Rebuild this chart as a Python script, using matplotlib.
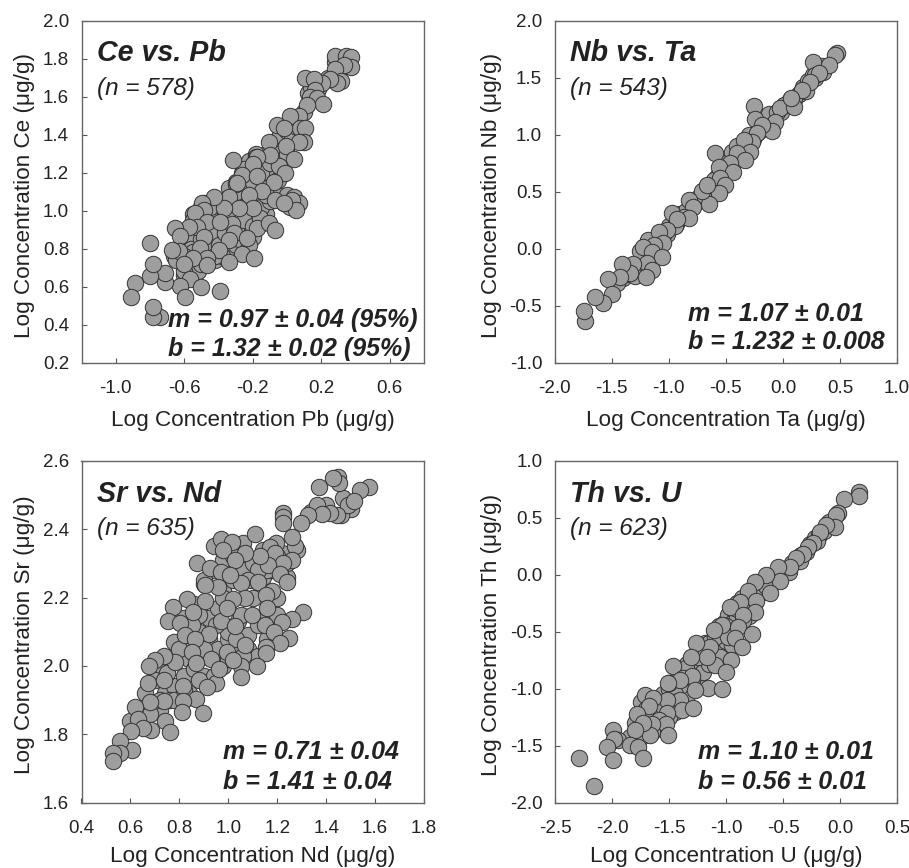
import matplotlib
matplotlib.use('Agg')
import matplotlib.pyplot as plt

plt.rcParams['font.family'] = ['Liberation Sans', 'DejaVu Sans']

# Ce vs Pb (back to front)
pb_x = [-0.62, -0.58, -0.55, -0.52, -0.48, -0.44, -0.4, -0.36, -0.32, -0.28, -0.24, -0.2, -0.16, -0.12, -0.08, -0.04,
        0.0, 0.03, 0.06, -0.3, -0.26, -0.22, -0.18, -0.14, -0.1, -0.06, -0.02, -0.42, -0.38, -0.34, -0.3, -0.26, -0.22,
        -0.18, -0.14, -0.1, -0.06, -0.02, 0.0, 0.02, -0.5, -0.46, -0.42, -0.38, -0.56, -0.58, -0.52, -0.66, -0.6,
        -0.12, -0.16, -0.2, -0.3, -0.34, 0.12, 0.18, 0.24, 0.3, 0.28, 0.34, 0.14, 0.1, 0.05,
        -0.55, -0.5, -0.45, -0.4, -0.35, -0.3, -0.25, -0.2, -0.15, -0.1, -0.05, 0.0,
        -0.5, -0.45, -0.4, -0.35, -0.3, -0.25, -0.2, -0.15, -0.1, -0.55, -0.6, -0.5, -0.42, -0.36,
        -0.28, -0.22, -0.16, -0.12, -0.05, -0.25, -0.3, -0.35, -0.18, -0.6, -0.65, -0.55, -0.45,
        0.283, 0.342, 0.375, 0.371, 0.332, 0.283, 0.316, 0.293, 0.254, 0.205, 0.108, 0.156, 0.166, 0.137, 0.176,
        0.211, 0.117, 0.069, 0.02, 0.085, 0.078, 0.107, 0.1, -0.058, -0.015, 0.069, -0.004, -0.107, 0.039, -0.048,
        -0.009, -0.097, -0.175, -0.2, -0.318, -0.263, -0.292, -0.175, -0.078, -0.146, -0.224, -0.341, -0.068,
        0.039, 0.069, 0.03, 0.055, -0.019, -0.2, -0.282, -0.37, -0.429, -0.497, -0.487, -0.536, -0.468, -0.526,
        -0.575, -0.653, -0.624, -0.483, -0.321, -0.312, -0.39, -0.175, -0.107, -0.068, -0.234, -0.341, -0.507,
        -0.633, -0.672, -0.4, -0.263, -0.19, -0.341, -0.468, -0.546, -0.604, -0.468, -0.565, -0.624, -0.594,
        -0.501, -0.39, -0.711, -0.715, -0.8, -0.784, -0.8, -0.887, -0.91, -0.741, -0.784, -0.784]
pb_y = [0.8, 0.86, 0.92, 0.98, 1.04, 1.0, 0.96, 1.0, 1.05, 1.1, 1.14, 1.18, 1.24, 1.3, 1.36, 1.4,
        1.42, 1.38, 1.44, 1.15, 1.2, 1.26, 1.3, 1.15, 1.2, 1.26, 1.3, 0.9, 0.85, 0.8, 0.82, 0.88, 0.95,
        1.0, 1.05, 1.1, 1.08, 1.04, 1.08, 1.02, 0.9, 0.8, 0.74, 0.76, 0.8, 0.7, 0.68, 0.76, 0.66,
        0.98, 0.93, 0.86, 0.9, 1.12, 1.62, 1.64, 1.7, 1.72, 1.78, 1.78, 1.65, 1.52, 1.47,
        0.98, 1.02, 0.96, 1.05, 0.98, 1.06, 1.1, 1.15, 1.2, 1.25, 1.3, 1.3,
        0.85, 0.88, 0.82, 0.98, 1.1, 0.95, 0.92, 1.02, 1.05, 0.78, 0.76, 0.72, 0.76, 0.88,
        0.85, 0.82, 0.96, 1.08, 1.16, 1.22, 1.14, 1.06, 1.28, 0.68, 0.74, 0.95, 1.02,
        1.814, 1.814, 1.81, 1.758, 1.767, 1.744, 1.68, 1.67, 1.69, 1.67, 1.70, 1.69, 1.635, 1.60, 1.59,
        1.56, 1.556, 1.50, 1.50, 1.42, 1.433, 1.433, 1.36, 1.45, 1.433, 1.363, 1.342, 1.363, 1.27, 1.235,
        1.197, 1.293, 1.284, 1.246, 1.267, 1.188, 1.144, 1.18, 1.153, 1.104, 1.083, 1.074, 1.056,
        1.074, 1.039, 1.056, 1.004, 1.039, 1.012, 1.012, 1.012, 1.074, 1.039, 1.004, 0.986, 0.942, 0.916,
        0.916, 0.907, 0.867, 0.863, 0.93, 0.881, 0.942, 0.907, 0.933, 0.898, 0.855, 0.846, 0.802,
        0.79, 0.793, 0.793, 0.772, 0.749, 0.732, 0.749, 0.749, 0.718, 0.714, 0.639, 0.604, 0.548,
        0.6, 0.578, 0.627, 0.674, 0.656, 0.718, 0.828, 0.621, 0.544, 0.442, 0.442, 0.492]

# Nb vs Ta
ta_x = [-1.4, -1.35, -1.28, -1.22, -1.18, -1.14, -1.1, -1.06, -1.02, -0.98, -0.94, -0.9, -0.86, -0.82, -0.78, -0.74,
        -0.7, -0.66, -0.62, -0.58, -0.54, -0.5, -0.46, -0.42, -0.38, -0.34, -0.3, -0.26, -0.22, -0.18, -0.14, -0.1,
        -0.06, -0.02, 0.02, 0.06, 0.1, 0.14, 0.18, 0.22, 0.26, 0.34,
        -1.05, -1.0, -0.95, -0.9, -0.85, -0.75, -0.7, -0.65, -0.6, -0.5, -0.45, -0.4, -0.3, -0.2, -0.12, -0.05, 0.1,
        0.2, 0.28, 0.35, -1.25, -1.18, -1.1, -1.3, -1.45,
        0.474, 0.459, 0.26, 0.40, 0.284, 0.313, 0.24, 0.167, 0.006, -0.023, 0.094, 0.07,
        -0.251, -0.243, -0.067, -0.096, -0.184, -0.228, -0.272, -0.345, -0.287, -0.404, -0.33, -0.599, -0.462,
        -0.564, -0.433, -0.555, -0.506, -0.564, -0.652, -0.71, -0.667, -0.827, -0.784, -0.974, -0.871, -0.827, -0.93,
        -1.018, -1.09, -1.047, -1.134, -1.222, -1.149, -1.061, -1.193, -1.149, -1.202, -1.31, -1.339, -1.412, -1.427,
        -1.529, -1.5, -1.573, -1.646, -1.734, -1.74]
ta_y = [-0.26, -0.22, -0.18, -0.1, -0.05, 0.0, 0.04, 0.1, 0.13, 0.2, 0.22, 0.28, 0.31, 0.36, 0.4, 0.44,
        0.5, 0.52, 0.56, 0.63, 0.66, 0.7, 0.74, 0.78, 0.84, 0.88, 0.92, 0.96, 1.02, 1.05, 1.08, 1.12,
        1.16, 1.2, 1.26, 1.3, 1.3, 1.36, 1.42, 1.47, 1.52, 1.6,
        0.12, 0.2, 0.2, 0.3, 0.33, 0.42, 0.47, 0.52, 0.6, 0.75, 0.85, 0.9, 1.0, 1.08, 1.18, 1.2, 1.32,
        1.38, 1.5, 1.55, -0.02, 0.08, 0.02, -0.24, -0.3,
        1.713, 1.70, 1.634, 1.611, 1.523, 1.538, 1.465, 1.392, 1.26, 1.231, 1.246, 1.319,
        1.251, 1.135, 1.114, 1.035, 1.085, 1.012, 0.939, 0.953, 0.851, 0.836, 0.778, 0.842, 0.749,
        0.719, 0.675, 0.617, 0.558, 0.491, 0.392, 0.509, 0.558, 0.427, 0.368, 0.31, 0.28, 0.266, 0.26,
        0.164, 0.149, 0.047, 0.032, 0.018, -0.026, -0.07, -0.129, -0.187, -0.246, -0.137, -0.216, -0.137, -0.246,
        -0.269, -0.398, -0.48, -0.421, -0.632, -0.544]

# Sr vs Nd
nd_x = [0.72, 0.76, 0.8, 0.84, 0.88, 0.92, 0.96, 1.0, 1.04, 1.08, 1.12, 1.16, 1.2, 1.24, 0.78, 0.82, 0.86, 0.9, 0.94, 0.98,
        1.02, 1.06, 1.1, 1.14, 1.18, 1.22, 0.84, 0.88, 0.92, 0.96, 1.0, 1.04, 1.08, 1.12, 1.16, 0.66, 0.7, 0.74, 0.78,
        0.82, 0.86, 0.9, 0.94, 0.98, 1.02, 1.06, 0.6, 0.64, 0.68, 0.72, 0.76, 0.8, 0.84, 1.28, 1.24, 1.2, 1.16, 1.12,
        0.94, 0.98, 1.02, 1.06, 1.1, 1.14, 1.34, 1.4, 1.5, 1.46,
        1.0, 1.05, 0.95, 1.1, 0.9, 1.12, 1.08, 1.0, 0.88, 0.93, 1.03, 0.8, 0.85, 1.18, 1.14, 1.2, 0.75, 0.72, 0.95, 1.07,
        0.98, 0.9, 0.78, 0.68, 1.05, 1.15, 1.02, 0.88, 0.82, 0.97,
        1.576, 1.538, 1.47, 1.49, 1.514, 1.45, 1.454, 1.429, 1.372, 1.361, 1.443, 1.415, 1.385, 1.327, 1.297,
        1.225, 1.225, 1.225, 1.109, 1.272, 1.259, 1.197, 1.17, 1.191, 1.259, 1.225, 1.163, 1.129, 1.211, 1.238,
        1.122, 1.054, 1.068, 0.972, 1.016, 0.979, 1.027, 0.873, 0.925, 0.972, 1.009, 0.959, 0.904, 1.156, 1.068,
        1.02, 0.904, 0.832, 0.775, 0.857, 0.993, 1.095, 1.159, 1.304, 1.259, 1.218, 0.754, 0.802, 1.027, 0.922,
        1.186, 0.823, 0.863, 1.249, 1.211, 1.156, 1.156, 1.116, 1.054, 0.993, 1.02, 0.962, 0.85, 0.87, 0.782,
        0.737, 0.7, 0.675, 0.673, 0.737, 0.816, 0.911, 0.87, 0.813, 0.737, 0.679, 0.618, 0.809, 0.897, 0.632,
        0.741, 0.761, 0.686, 0.652, 0.602, 0.607, 0.559, 0.559, 0.529, 0.529]
nd_y = [2.0, 2.02, 2.05, 2.08, 2.1, 2.14, 2.17, 2.18, 2.13, 2.09, 2.12, 2.15, 2.2, 2.26, 2.07, 2.14, 2.18, 2.24, 2.28, 2.22,
        2.25, 2.28, 2.25, 2.26, 2.28, 2.33, 2.02, 2.04, 2.08, 2.05, 2.08, 2.06, 2.05, 2.03, 2.08, 1.92, 1.96, 1.92, 1.94,
        1.97, 1.99, 1.97, 1.97, 2.0, 2.02, 2.03, 1.84, 1.86, 1.88, 1.87, 1.9, 1.9, 1.92, 2.34, 2.3, 2.32, 2.28, 2.29,
        2.35, 2.31, 2.33, 2.36, 2.3, 2.34, 2.45, 2.47, 2.46, 2.44,
        2.1, 2.15, 2.12, 2.2, 2.05, 2.28, 2.25, 2.02, 2.15, 2.02, 2.08, 2.05, 2.12, 2.22, 2.32, 2.15, 1.98, 1.9, 1.95, 2.06,
        2.2, 2.25, 1.9, 1.86, 2.0, 2.12, 2.32, 1.96, 1.93, 2.13,
        2.522, 2.514, 2.49, 2.47, 2.483, 2.553, 2.536, 2.548, 2.522, 2.47, 2.441, 2.446, 2.444, 2.441, 2.417,
        2.448, 2.434, 2.419, 2.386, 2.35, 2.376, 2.358, 2.348, 2.331, 2.309, 2.302, 2.295, 2.321, 2.27, 2.246,
        2.246, 2.241, 2.329, 2.37, 2.363, 2.339, 2.309, 2.302, 2.285, 2.275, 2.266, 2.23, 2.236, 2.207, 2.199,
        2.197, 2.19, 2.197, 2.173, 2.158, 2.168, 2.149, 2.168, 2.158, 2.136, 2.129, 2.132, 2.124, 2.116, 2.093,
        2.1, 2.09, 2.08, 2.083, 2.066, 2.056, 2.038, 2.0, 1.968, 2.041, 2.017, 1.99, 2.041, 2.009, 2.012,
        2.029, 2.017, 2.0, 1.951, 1.96, 1.941, 1.939, 1.902, 1.898, 1.898, 1.895, 1.88, 1.866, 1.861, 1.846,
        1.839, 1.807, 1.812, 1.819, 1.809, 1.754, 1.781, 1.746, 1.744, 1.723]

# Th vs U
u_x = [-1.6, -1.55, -1.5, -1.45, -1.42, -1.38, -1.34, -1.3, -1.26, -1.22, -1.18, -1.14, -1.1, -1.06, -1.02, -0.98, -0.94,
       -0.9, -0.86, -0.82, -0.78, -0.74, -0.7, -0.66, -0.6, -0.55, -0.5, -0.46, -0.42, -0.38, -0.34, -0.3, -0.26, -0.22,
       -0.18, -0.14, -0.1, -1.3, -1.25, -1.2, -1.15, -1.1, -1.05, -1.0, -1.35, -1.4, -1.45, -1.5, -1.55, -1.6, -1.65,
       -1.75, -1.7, -1.8, -1.84, -0.95, -0.9, -0.85, -0.8, -0.75,
       -1.25, -1.2, -1.15, -1.1, -1.05, -1.0, -0.95, -0.9, -0.85, -0.8, -0.7, -0.65, -1.35, -1.3, -1.4, -1.45, -1.5,
       -1.6, -1.55, -1.7, -1.75, -1.65, -1.45, -0.98, -0.45, -0.35, -0.2,
       0.167, 0.167, 0.035, -0.017, -0.032, -0.046, -0.12, -0.178, -0.236, -0.28, -0.324, -0.382, -0.441, -0.543,
       -0.528, -0.645, -0.747, -0.616, -0.806, -0.733, -0.879, -0.961, -0.747, -0.85, -0.893, -1.031, -1.104, -0.768,
       -0.923, -0.864, -1.142, -1.259, -0.952, -1.098, -1.171, -1.311, -0.996, -1.469, -1.375, -1.302, -1.405, -1.507,
       -1.156, -1.031, -1.273, -1.405, -1.521, -1.39, -1.288, -1.711, -1.638, -1.673, -1.521, -1.784, -1.586, -1.527,
       -1.653, -1.507, -1.667, -1.726, -1.799, -1.989, -1.945, -1.983, -2.047, -1.843, -1.77, -1.726, -1.989, -2.287, -2.155]
u_y = [-1.1, -1.05, -1.0, -1.04, -0.9, -0.86, -0.78, -0.76, -0.7, -0.64, -0.6, -0.6, -0.5, -0.45, -0.42, -0.35, -0.3,
       -0.25, -0.2, -0.2, -0.16, -0.14, -0.12, -0.08, -0.05, 0.0, 0.02, 0.06, 0.1, 0.12, 0.17, 0.2, 0.27, 0.32,
       0.35, 0.38, 0.46, -0.98, -0.9, -0.85, -0.78, -0.7, -0.62, -0.58, -1.08, -1.12, -1.2, -1.25, -1.3, -1.3, -1.22,
       -1.12, -1.18, -1.3, -1.42, -0.42, -0.38, -0.3, -0.36, -0.24,
       -0.72, -0.68, -0.6, -0.55, -0.72, -0.45, -0.62, -0.3, -0.4, -0.3, -0.16, -0.1, -0.82, -0.92, -0.98, -1.05, -0.95,
       -1.2, -1.15, -1.25, -1.42, -1.38, -1.12, -0.55, 0.02, 0.12, 0.3,
       0.728, 0.693, 0.661, 0.538, 0.523, 0.421, 0.436, 0.377, 0.275, 0.246, 0.178, 0.143, 0.064, 0.064,
       -0.053, -0.003, -0.061, -0.164, -0.14, -0.228, -0.237, -0.281, -0.325, -0.354, -0.456, -0.442, -0.485, -0.523,
       -0.558, -0.632, -0.632, -0.602, -0.749, -0.792, -0.719, -0.725, -0.851, -0.801, -0.909, -0.889, -0.924, -0.953,
       -0.997, -1.006, -1.012, -1.1, -1.1, -1.187, -1.173, -1.056, -1.085, -1.152, -1.216, -1.222, -1.275, -1.31,
       -1.31, -1.406, -1.406, -1.304, -1.363, -1.363, -1.45, -1.444, -1.509, -1.494, -1.509, -1.611, -1.626, -1.611, -1.854]

titles = ['Ce vs. Pb', 'Nb vs. Ta', 'Sr vs. Nd', 'Th vs. U']
counts = ['(n = 578)', '(n = 543)', '(n = 635)', '(n = 623)']
fits = [['m = 0.97 \u00b1 0.04 (95%)', 'b = 1.32 \u00b1 0.02 (95%)'],
        ['m = 1.07 \u00b1 0.01', 'b = 1.232 \u00b1 0.008'],
        ['m = 0.71 \u00b1 0.04', 'b = 1.41 \u00b1 0.04'],
        ['m = 1.10 \u00b1 0.01', 'b = 0.56 \u00b1 0.01']]
x_names = ['Pb', 'Ta', 'Nd', 'U']
y_names = ['Ce', 'Nb', 'Sr', 'Th']
x_ticks = [[-1.0, -0.6, -0.2, 0.2, 0.6],
           [-2.0, -1.5, -1.0, -0.5, 0.0, 0.5, 1.0],
           [0.4, 0.6, 0.8, 1.0, 1.2, 1.4, 1.6, 1.8],
           [-2.5, -2.0, -1.5, -1.0, -0.5, 0.0, 0.5]]
y_ticks = [[0.2, 0.4, 0.6, 0.8, 1.0, 1.2, 1.4, 1.6, 1.8, 2.0],
           [-1.0, -0.5, 0.0, 0.5, 1.0, 1.5, 2.0],
           [1.6, 1.8, 2.0, 2.2, 2.4, 2.6],
           [-2.0, -1.5, -1.0, -0.5, 0.0, 0.5, 1.0]]
x_lims = [(-1.2, 0.8), (-2.0, 1.0), (0.4, 1.8), (-2.5, 0.5)]
y_lims = [(0.2, 2.0), (-1.0, 2.0), (1.6, 2.6), (-2.0, 1.0)]
xs = [pb_x, ta_x, nd_x, u_x]
ys = [pb_y, ta_y, nd_y, u_y]

W, H = 909, 868
# axes boxes in pixels: left, top, right, bottom
boxes = [(81.5, 20.5, 424, 362.7), (554.7, 20.5, 897, 362.7),
         (81.5, 460.7, 424, 802.7), (555, 460.7, 897, 802.7)]
fit_left = [0.253, 0.39, 0.413, 0.418]
fit_top = [0.126, 0.142, 0.148, 0.148]
fit_low = [0.041, 0.06, 0.061, 0.061]
ylabel_x = [-0.135, -0.155, -0.135, -0.155]
xlabel_y = [-0.138, -0.138, -0.128, -0.128]
ink = '#222222'

fig = plt.figure(figsize=(W / 100, H / 100), dpi=100)
for i, (l, t, r, b) in enumerate(boxes):
    ax = fig.add_axes([l / W, 1 - b / H, (r - l) / W, (b - t) / H])
    ax.scatter(xs[i], ys[i], s=140, c='#9e9e9e', edgecolors='#333333', linewidths=0.7, clip_on=False)
    ax.set_xlim(x_lims[i])
    ax.set_ylim(y_lims[i])
    ax.set_xticks(x_ticks[i])
    ax.set_yticks(y_ticks[i])
    ax.set_xticklabels(['%.1f' % v for v in x_ticks[i]])
    ax.set_yticklabels(['%.1f' % v for v in y_ticks[i]])
    ax.tick_params(direction='in', length=3.5, width=0.8, color='#555555', labelsize=13.5,
                   labelcolor=ink, top=False, right=False)
    ax.tick_params(axis='x', pad=12.5)
    ax.tick_params(axis='y', pad=9)
    for spine in ax.spines.values():
        spine.set_color('#666666')
        spine.set_linewidth(1.0)
    ax.set_xlabel('Log Concentration %s (\u03bcg/g)' % x_names[i], fontsize=16.2, color=ink)
    ax.set_ylabel('Log Concentration %s (\u03bcg/g)' % y_names[i], fontsize=16.2, color=ink)
    ax.xaxis.set_label_coords(0.5, xlabel_y[i])
    ax.yaxis.set_label_coords(ylabel_x[i], 0.49)
    ax.text(0.045, 0.904, titles[i], transform=ax.transAxes, fontsize=20.6, fontweight='bold',
            fontstyle='italic', color=ink, va='center')
    ax.text(0.045, 0.802, counts[i], transform=ax.transAxes, fontsize=17.5, fontstyle='italic',
            color=ink, va='center')
    ax.text(fit_left[i], fit_top[i], fits[i][0], transform=ax.transAxes, fontsize=18, fontweight='bold',
            fontstyle='italic', color=ink, va='center')
    ax.text(fit_left[i], fit_low[i], fits[i][1], transform=ax.transAxes, fontsize=18, fontweight='bold',
            fontstyle='italic', color=ink, va='center')

fig.savefig('out.png', dpi=100)
